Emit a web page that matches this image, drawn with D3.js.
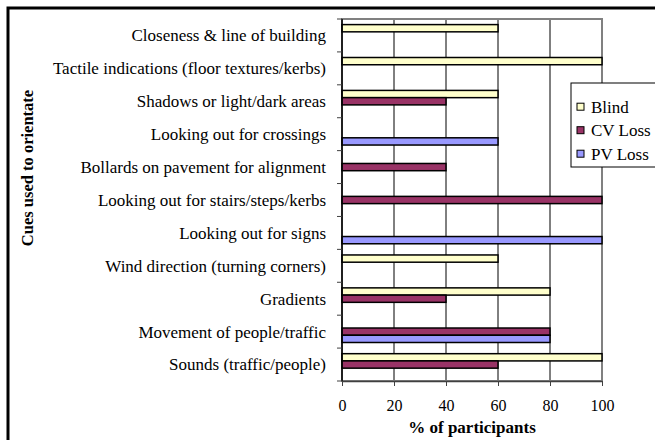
<!DOCTYPE html>
<html><head><meta charset="utf-8">
<script src="https://cdn.jsdelivr.net/npm/d3@7/dist/d3.min.js"></script>
<style>body{margin:0;background:#fff;} svg{display:block;}</style>
</head><body><svg id="c" width="655" height="440"></svg>
<script>
const categories = [
  "Closeness & line of building",
  "Tactile indications (floor textures/kerbs)",
  "Shadows or light/dark areas",
  "Looking out for crossings",
  "Bollards on pavement for alignment",
  "Looking out for stairs/steps/kerbs",
  "Looking out for signs",
  "Wind direction (turning corners)",
  "Gradients",
  "Movement of people/traffic",
  "Sounds (traffic/people)"
];
const seriesNames = ["Blind", "CV Loss", "PV Loss"];
const blind  = [60, 100, 60, null, null, null, null, 60, 80, null, 100];
const cvLoss = [null, null, 40, null, 40, 100, null, null, 40, 80, 60];
const pvLoss = [null, null, null, 60, null, null, 100, null, null, 80, null];
const xTicks = [0, 20, 40, 60, 80, 100];
const colors = ["#FFFFCC", "#993366", "#9999FF"];

const seriesValues = [blind, cvLoss, pvLoss];
const svg = d3.select("#c");
const font = "'Liberation Serif', 'Times New Roman', serif";

// outer chart border (partly clipped)
svg.append("rect").attr("x", 8).attr("y", 8).attr("width", 660).attr("height", 450)
  .attr("fill", "#fff").attr("stroke", "#000").attr("stroke-width", 3);

const L = 342, R = 602, T = 19, B = 381;
const x = d3.scaleLinear().domain([0, 100]).range([L, R]);
const y = d3.scaleBand().domain(categories).range([T, B]).paddingInner(0.34).paddingOuter(0.17);
const yInner = d3.scaleBand().domain(seriesNames).range([0, y.bandwidth()]);

// gridlines
svg.append("g").selectAll("line").data(xTicks.filter(t => t > 0 && t < 100)).join("line")
  .attr("x1", d => x(d)).attr("x2", d => x(d)).attr("y1", T).attr("y2", B)
  .attr("stroke", "#000").attr("stroke-width", 1);

// plot border
svg.append("rect").attr("x", L).attr("y", T).attr("width", R - L).attr("height", B - T)
  .attr("fill", "none").attr("stroke", "#808080").attr("stroke-width", 2);

// bars
const data = [];
categories.forEach((c, i) => seriesNames.forEach((s, j) => {
  const v = seriesValues[j][i];
  if (v != null) data.push({c, s, v, j});
}));
svg.append("g").selectAll("rect").data(data).join("rect")
  .attr("x", x(0)).attr("y", d => y(d.c) + yInner(d.s))
  .attr("width", d => x(d.v) - x(0)).attr("height", yInner.bandwidth())
  .attr("fill", d => colors[d.j]).attr("stroke", "#000").attr("stroke-width", 1.5);

// x axis
const xAxis = svg.append("g").attr("transform", `translate(0,${B})`)
  .call(d3.axisBottom(x).tickValues(xTicks).tickSize(5).tickPadding(14).tickSizeOuter(0));
xAxis.select(".domain").attr("stroke", "#404040").attr("stroke-width", 1.5);
xAxis.selectAll(".tick line").attr("stroke", "#404040");
xAxis.selectAll("text").attr("font-family", font).attr("font-size", 16).attr("fill", "#000");

// y axis
const tickPos = categories.map(c => y(c) - y.step() * y.paddingInner() / 2).concat([B]);
const yAxis = svg.append("g");
yAxis.append("line").attr("x1", L).attr("x2", L).attr("y1", T).attr("y2", B)
  .attr("stroke", "#000").attr("stroke-width", 1.5);
yAxis.selectAll("line.t").data(tickPos).join("line").attr("class", "t")
  .attr("x1", L - 5).attr("x2", L).attr("y1", d => d).attr("y2", d => d)
  .attr("stroke", "#404040").attr("stroke-width", 1);
yAxis.selectAll("text").data(categories).join("text")
  .attr("x", 326).attr("y", d => y(d) + y.bandwidth() / 2).attr("dy", "0.35em")
  .attr("text-anchor", "end").attr("font-family", font).attr("font-size", 17).text(d => d);

// axis titles
svg.append("text").attr("x", 472).attr("y", 433).attr("text-anchor", "middle")
  .attr("font-family", font).attr("font-size", 17).attr("font-weight", "bold").text("% of participants");
svg.append("text").attr("transform", "translate(33,168) rotate(-90)").attr("text-anchor", "middle")
  .attr("font-family", font).attr("font-size", 16.5).attr("font-weight", "bold").text("Cues used to orientate");

// legend
const lg = svg.append("g");
lg.append("rect").attr("x", 571).attr("y", 83).attr("width", 100).attr("height", 84)
  .attr("fill", "#fff").attr("stroke", "#000").attr("stroke-width", 1);
const li = lg.selectAll("g.i").data(seriesNames).join("g").attr("class", "i")
  .attr("transform", (d, i) => `translate(577,${106.7 + i * 23.5})`);
li.append("rect").attr("x", 0).attr("y", -3.5).attr("width", 7).attr("height", 7)
  .attr("fill", (d, i) => colors[i]).attr("stroke", "#000").attr("stroke-width", 1);
li.append("text").attr("x", 14).attr("y", 0).attr("dy", "0.35em")
  .attr("font-family", font).attr("font-size", 17).text(d => d);
</script></body></html>
